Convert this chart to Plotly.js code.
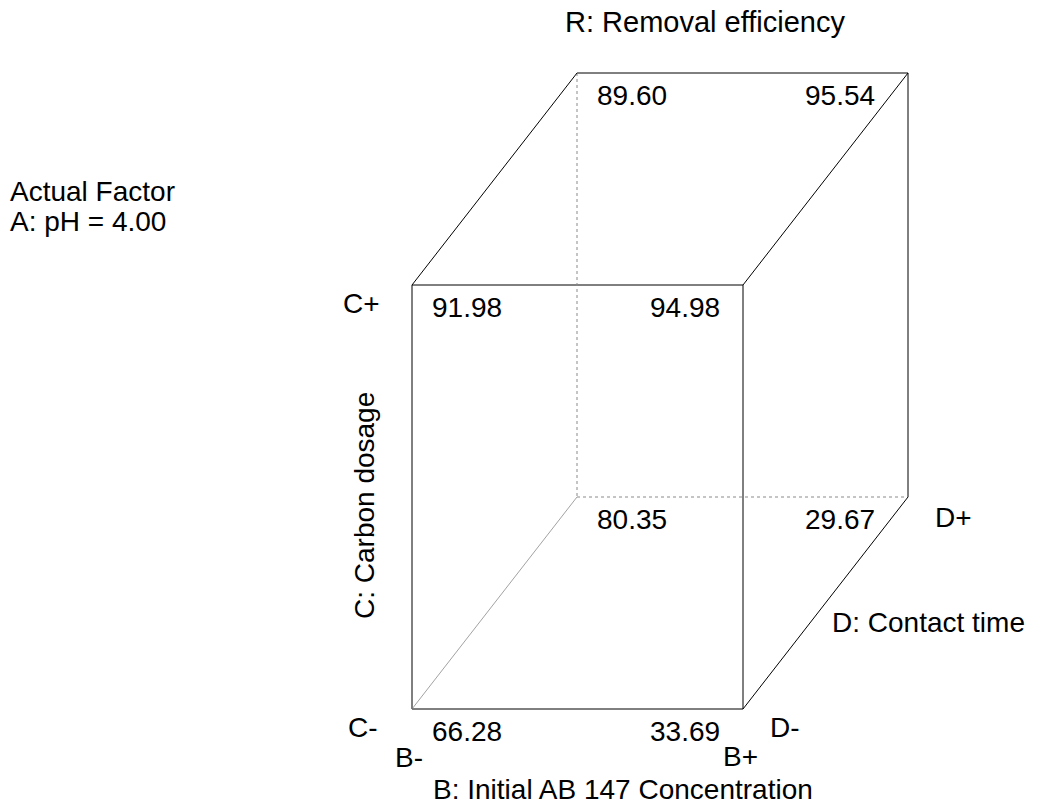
<!DOCTYPE html>
<html>
<head>
<meta charset="utf-8">
<script src="https://cdn.plot.ly/plotly-3.0.1.min.js"></script>
<style>html,body{margin:0;padding:0;background:#fff;}</style>
</head>
<body>
<div id="chart" style="width:1037px;height:805px;"></div>
<script>
// ---- data ----
var levelB = [-1, 1, -1, 1, -1, 1, -1, 1];
var levelC = [-1, -1, 1, 1, -1, -1, 1, 1];
var levelD = [-1, -1, -1, -1, 1, 1, 1, 1];
var response = [66.28, 33.69, 91.98, 94.98, 80.35, 29.67, 89.60, 95.54];
var responseTitle = "R: Removal efficiency";
var factorB = "B: Initial AB 147 Concentration";
var factorC = "C: Carbon dosage";
var factorD = "D: Contact time";
var actualFactor = ["Actual Factor", "A: pH = 4.00"];

// ---- cube projection (layout) ----
var X0 = 412, Y0 = 709, W = 331, H = 424, DX = 165, DY = 212;
function px(b, c, d) { return X0 + (b + 1) / 2 * W + (d + 1) / 2 * DX; }
function py(b, c, d) { return Y0 - (c + 1) / 2 * H - (d + 1) / 2 * DY; }

var FONT = "Liberation Sans, Arial, Helvetica, sans-serif";
var FS = 28;

function edge(a, b, style) {
  return {
    type: "scatter", mode: "lines", hoverinfo: "skip", showlegend: false,
    x: [px(a[0], a[1], a[2]), px(b[0], b[1], b[2])],
    y: [py(a[0], a[1], a[2]), py(b[0], b[1], b[2])],
    line: style
  };
}
var solid = { color: "#000", width: 1 };
var hid = { color: "#8a8a8a", width: 1, dash: "dot" };
var hidDiag = { color: "#8a8a8a", width: 0.8 };

var traces = [
  // front face
  edge([-1,-1,-1],[1,-1,-1],solid), edge([1,-1,-1],[1,1,-1],solid),
  edge([1,1,-1],[-1,1,-1],solid), edge([-1,1,-1],[-1,-1,-1],solid),
  // back face
  edge([-1,1,1],[1,1,1],solid), edge([1,1,1],[1,-1,1],solid),
  edge([-1,1,1],[-1,-1,1],hid), edge([-1,-1,1],[1,-1,1],hid),
  // connectors
  edge([-1,1,-1],[-1,1,1],solid), edge([1,1,-1],[1,1,1],solid),
  edge([1,-1,-1],[1,-1,1],solid), edge([-1,-1,-1],[-1,-1,1],hidDiag)
];

var ann = [];
function txt(x, y, t, xa, extra) {
  var a = { x: x, y: y, text: t, showarrow: false, xref: "x", yref: "y",
            xanchor: xa || "center", yanchor: "middle",
            font: { family: FONT, size: FS, color: "#000" } };
  for (var k in extra) a[k] = extra[k];
  ann.push(a);
}
for (var i = 0; i < response.length; i++) {
  var b = levelB[i], c = levelC[i], d = levelD[i];
  var x = px(b, c, d), y = py(b, c, d);
  var off = b < 0 ? 18 : (d < 0 ? -21 : -31);
  txt(x + off, y + 22, response[i].toFixed(2), b < 0 ? "left" : "right");
}
// level labels
txt(px(-1,1,-1) - 30, py(-1,1,-1) + 18, "C+", "right");
txt(px(-1,-1,-1) - 32, py(-1,-1,-1) + 18, "C-", "right");
txt(px(-1,-1,-1) - 3, py(-1,-1,-1) + 48, "B-", "center");
txt(px(1,-1,-1) - 3, py(1,-1,-1) + 47, "B+", "center");
txt(px(1,-1,-1) + 25, py(1,-1,-1) + 18, "D-", "left");
txt(px(1,-1,1) + 25, py(1,-1,1) + 20, "D+", "left");
// factor names
txt((px(-1,-1,-1) + px(1,-1,-1)) / 2 + 45, py(-1,-1,-1) + 80, factorB, "center");
txt(px(-1,-1,-1) - 48, (py(-1,-1,-1) + py(-1,1,-1)) / 2 + 9, factorC, "center", { textangle: -90 });
txt(px(1,-1,-1) + 87, 622, factorD, "left");
txt(705, 22, responseTitle, "center", { font: { family: FONT, size: 29, color: "#000" } });
txt(8, 191, actualFactor[0], "left");
txt(8, 221, actualFactor[1], "left");

var layout = {
  width: 1037, height: 805,
  margin: { l: 0, r: 0, t: 0, b: 0 },
  paper_bgcolor: "#fff", plot_bgcolor: "#fff",
  xaxis: { range: [0, 1037], visible: false, fixedrange: true },
  yaxis: { range: [805, 0], visible: false, fixedrange: true },
  annotations: ann,
  showlegend: false
};
Plotly.newPlot("chart", traces, layout, { displayModeBar: false, staticPlot: true });
</script>
</body>
</html>
